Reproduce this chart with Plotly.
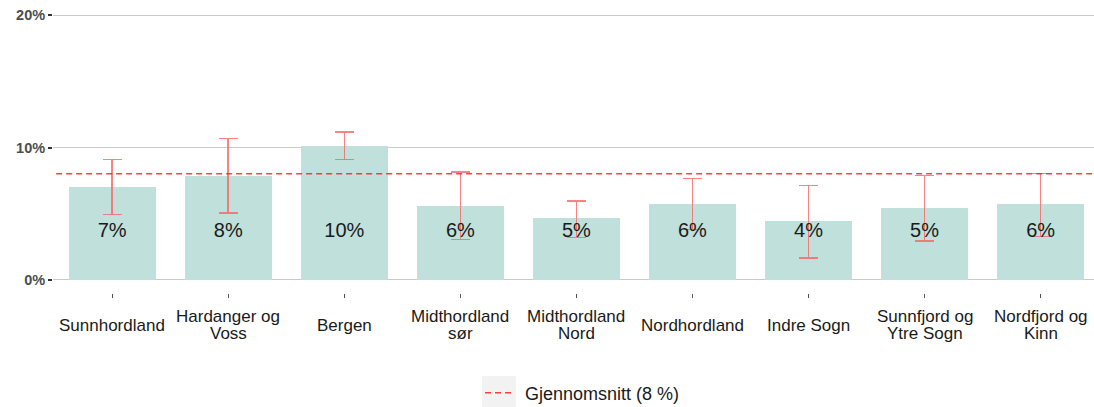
import plotly.graph_objects as go

categories = ["Sunnhordland", "Hardanger og<br>Voss", "Bergen", "Midthordland<br>sør",
              "Midthordland<br>Nord", "Nordhordland", "Indre Sogn",
              "Sunnfjord og<br>Ytre Sogn", "Nordfjord og<br>Kinn"]
values = [7.04, 7.83, 10.14, 5.61, 4.65, 5.74, 4.43, 5.41, 5.74]
upper = [9.11, 10.67, 11.19, 8.15, 5.94, 7.67, 7.12, 7.87, 8.05]
lower = [4.93, 5.06, 9.11, 3.04, 3.19, 3.80, 1.63, 2.94, 3.27]
bar_labels = ["7%", "8%", "10%", "6%", "5%", "6%", "4%", "5%", "6%"]
label_y = 3.6
mean_value = 8.02
mean_label = "Gjennomsnitt (8 %)"
y_ticks = [0, 10, 20]
y_ticktext = ["0%", "10%", "20%"]

xs = list(range(len(categories)))
FONT = "Liberation Sans, Arial, sans-serif"
LINE_GAP = 17

fig = go.Figure()
fig.add_trace(go.Bar(
    x=xs, y=values, width=0.75,
    marker=dict(color="#BFE0DB", line=dict(width=0)),
    error_y=dict(type="data", symmetric=False,
                 array=[u - v for u, v in zip(upper, values)],
                 arrayminus=[v - l for v, l in zip(values, lower)],
                 color="rgba(248,100,100,0.8)", thickness=1.5, width=9.5),
    showlegend=False, hoverinfo="skip",
))
fig.add_trace(go.Scatter(
    x=xs, y=[label_y] * len(xs), mode="text", text=bar_labels,
    textfont=dict(family=FONT, size=20, color="#1a1a1a"),
    showlegend=False, hoverinfo="skip",
))
fig.add_trace(go.Scatter(
    x=[-1, len(xs)], y=[mean_value, mean_value], mode="lines",
    line=dict(color="rgba(255,30,30,0.85)", width=1.6, dash="6px,4px"),
    name="\u00a0" + mean_label, showlegend=True, hoverinfo="skip",
))

for x, c in zip(xs, categories):
    lines = c.split("<br>")
    n = len(lines)
    for i, ln in enumerate(lines):
        offset = (i - (n - 1) / 2) * LINE_GAP
        fig.add_annotation(x=x, xref="x", y=0, yref="paper", yshift=-32 - offset,
                           text=ln, showarrow=False, yanchor="middle", xanchor="center",
                           font=dict(family=FONT, size=17, color="#1a1a1a"),
                           align="center")

# legend key background
fig.add_shape(type="rect", xref="paper", yref="paper",
              x0=(482 - 53) / 1041, x1=(516 - 53) / 1041,
              y0=(293 - 376) / 291, y1=(293 - 410) / 291,
              fillcolor="#F2F2F2", line=dict(width=0), layer="below")

fig.update_layout(
    width=1094, height=407,
    margin=dict(l=53, r=0, t=2, b=114, autoexpand=False),
    plot_bgcolor="white", paper_bgcolor="white",
    font=dict(family=FONT),
    bargap=0,
    xaxis=dict(range=[-0.51, 8.46], tickvals=xs, ticktext=[""] * len(xs),
               showticklabels=False, ticks="outside", ticklen=4, tickwidth=1,
               tickcolor="#555555", showgrid=True, gridcolor="white", gridwidth=1.5,
               zeroline=False, showline=False, fixedrange=True),
    yaxis=dict(range=[-1, 21], tickvals=y_ticks, ticktext=y_ticktext,
               ticks="outside", ticklen=4, tickwidth=1.5, tickcolor="#333333",
               tickfont=dict(family=FONT, size=14.5, color="#4D4D4D", weight="bold"),
               showgrid=True, gridcolor="#CACACA", gridwidth=1.3,
               zeroline=False, showline=False, fixedrange=True),
    legend=dict(orientation="h", x=(480 - 53) / 1041, xanchor="left",
                y=(293 - 393) / 291, yanchor="middle",
                font=dict(family=FONT, size=18, color="#1a1a1a"),
                bgcolor="rgba(0,0,0,0)", itemwidth=30),
)

fig.write_html("out.html", config={"displayModeBar": False},
               post_script="document.body.style.margin='0';")
